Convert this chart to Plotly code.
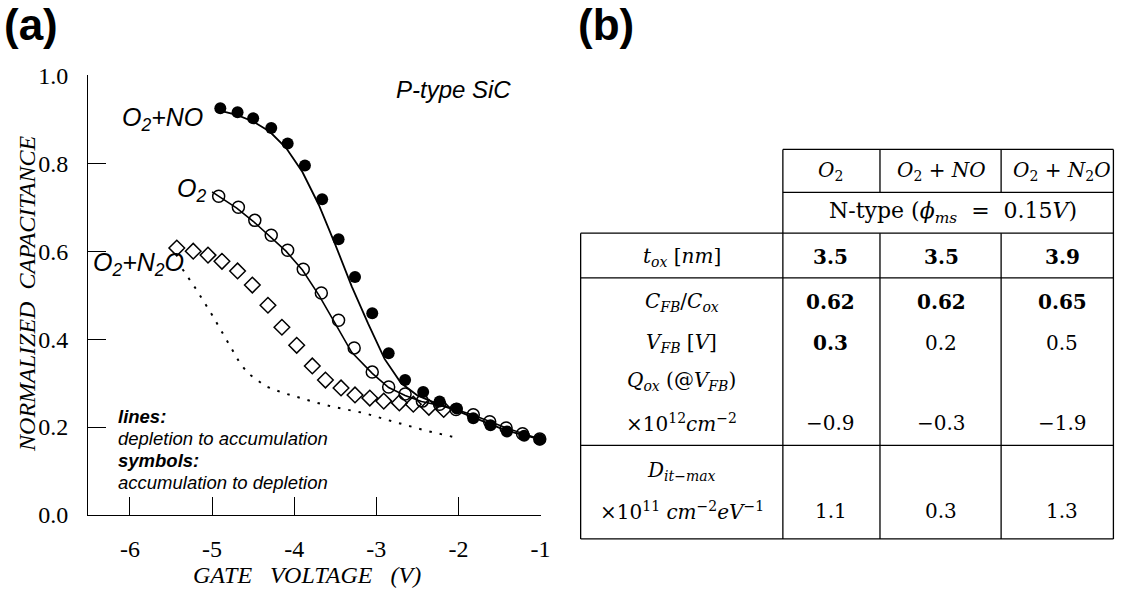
import plotly.graph_objects as go

# ---------------- data (panel a) ----------------
# O2+NO : symbols (accumulation -> depletion)
no_sym_x = [-4.90, -4.69, -4.50, -4.28, -4.08, -3.87, -3.66, -3.46, -3.26, -3.05, -2.85, -2.65, -2.43, -2.23, -2.02, -1.82, -1.61, -1.41, -1.20, -1.01]
no_sym_y = [0.925, 0.916, 0.902, 0.880, 0.845, 0.795, 0.718, 0.627, 0.541, 0.459, 0.368, 0.307, 0.280, 0.258, 0.242, 0.220, 0.204, 0.190, 0.180, 0.172]
# O2+NO : line (depletion -> accumulation)
no_line_x = [-4.92, -4.70, -4.50, -4.30, -4.10, -3.90, -3.70, -3.50, -3.30, -3.10, -2.90, -2.70, -2.50, -2.30, -2.10, -1.90, -1.70, -1.50, -1.30, -1.00]
no_line_y = [0.920, 0.910, 0.895, 0.872, 0.835, 0.780, 0.705, 0.615, 0.520, 0.435, 0.355, 0.300, 0.272, 0.256, 0.243, 0.228, 0.212, 0.198, 0.186, 0.172]

# O2 : symbols
o2_sym_x = [-4.92, -4.68, -4.48, -4.28, -4.08, -3.89, -3.67, -3.46, -3.27, -3.05, -2.85, -2.65, -2.44, -2.23, -2.03, -1.82, -1.62, -1.42, -1.22, -1.01]
o2_sym_y = [0.725, 0.700, 0.670, 0.636, 0.602, 0.559, 0.505, 0.443, 0.380, 0.325, 0.291, 0.275, 0.259, 0.252, 0.240, 0.228, 0.212, 0.198, 0.185, 0.173]
# O2 : line
o2_line_x = [-5.00, -4.90, -4.70, -4.50, -4.30, -4.10, -3.90, -3.70, -3.50, -3.30, -3.05, -2.85, -2.65, -2.45, -2.25, -2.00, -1.80, -1.60, -1.40, -1.20, -1.00]
o2_line_y = [0.735, 0.722, 0.698, 0.668, 0.635, 0.600, 0.557, 0.500, 0.435, 0.370, 0.322, 0.290, 0.272, 0.258, 0.250, 0.238, 0.226, 0.211, 0.197, 0.184, 0.172]

# O2+N2O : symbols
n2o_sym_x = [-5.43, -5.23, -5.05, -4.88, -4.69, -4.51, -4.32, -4.15, -3.97, -3.78, -3.62, -3.43, -3.26, -3.08, -2.91, -2.72, -2.55, -2.36, -2.18]
n2o_sym_y = [0.607, 0.600, 0.591, 0.577, 0.555, 0.523, 0.477, 0.427, 0.386, 0.339, 0.307, 0.289, 0.273, 0.266, 0.259, 0.255, 0.252, 0.245, 0.240]
# O2+N2O : dotted line
n2o_line_x = [-5.36, -5.20, -5.00, -4.80, -4.66, -4.56, -4.35, -4.14, -3.95, -3.74, -3.53, -3.33, -3.15, -2.90, -2.70, -2.40, -2.05]
n2o_line_y = [0.559, 0.515, 0.455, 0.390, 0.345, 0.322, 0.293, 0.278, 0.267, 0.256, 0.246, 0.239, 0.232, 0.218, 0.207, 0.192, 0.177]

x_ticks = [-6, -5, -4, -3, -2, -1]
y_ticks = [0.0, 0.2, 0.4, 0.6, 0.8, 1.0]

# ---------------- data (panel b) ----------------
col_headers = ["<i>O</i><sub>2</sub>", "<i>O</i><sub>2</sub> + <i>NO</i>", "<i>O</i><sub>2</sub> + <i>N</i><sub>2</sub><i>O</i>"]
subheader = "N-type&nbsp;(<i>ϕ<sub>ms</sub></i>&nbsp;&nbsp;=&nbsp;&nbsp;0.15<i>V</i>)"
tox = ["3.5", "3.5", "3.9"]
cfb_cox = ["0.62", "0.62", "0.65"]
vfb = ["0.3", "0.2", "0.5"]
qox = ["−0.9", "−0.3", "−1.9"]
dit = ["1.1", "0.3", "1.3"]

W, H = 1124, 594
def px(x):
    return min(x / 0.99, W - 0.6) / W
def py(y):
    return 1 - ((y - 13) / 0.96) / H

SERIF = "Liberation Serif"
SANS = "Liberation Sans"
TFONT = "DejaVu Serif"

fig = go.Figure()
fig.add_trace(go.Scatter(x=no_line_x, y=no_line_y, mode="lines",
                         line=dict(color="black", width=1.8), hoverinfo="skip"))
fig.add_trace(go.Scatter(x=o2_line_x, y=o2_line_y, mode="lines",
                         line=dict(color="black", width=1.6), hoverinfo="skip"))
fig.add_trace(go.Scatter(x=n2o_line_x, y=n2o_line_y, mode="lines",
                         line=dict(color="black", width=2, dash="2.5px,8px"), hoverinfo="skip"))
fig.add_trace(go.Scatter(x=no_sym_x, y=no_sym_y, mode="markers", cliponaxis=False,
                         marker=dict(symbol="circle", size=12, color="black")))
fig.add_trace(go.Scatter(x=o2_sym_x, y=o2_sym_y, mode="markers", cliponaxis=False,
                         marker=dict(symbol="circle-open", size=12, color="black",
                                     line=dict(width=1.5, color="black"))))
fig.add_trace(go.Scatter(x=n2o_sym_x, y=n2o_sym_y, mode="markers", cliponaxis=False,
                         marker=dict(symbol="diamond-open", size=12, color="black",
                                     line=dict(width=1.5, color="black"))))

axis_common = dict(showgrid=False, zeroline=False, showline=True, linecolor="black",
                   linewidth=1.2, ticks="inside", ticklen=18, tickwidth=1.2, tickcolor="black",
                   tickfont=dict(family=SERIF, size=24, color="black"))
fig.update_xaxes(range=[-6.51, -1.0], tickvals=x_ticks, ticktext=[str(v) for v in x_ticks],
                 domain=[px(88), px(540)], ticklabelstandoff=12, **axis_common)
fig.update_yaxes(range=[0, 1.0], tickvals=y_ticks, ticktext=[f"{v:.1f}" for v in y_ticks],
                 domain=[py(517), py(75.5)], ticklabelstandoff=14, **axis_common)

ann = []
def A(x, y, text, size, family, xanchor="center", xref="paper", yref="paper", textangle=0):
    ann.append(dict(x=x, y=y, xref=xref, yref=yref, text=text, showarrow=False,
                    xanchor=xanchor, yanchor="middle", textangle=textangle,
                    font=dict(family=family, size=size, color="black")))

# panel labels
A(px(31), py(25), "<b>(a)</b>", 44, SANS)
A(px(605), py(25), "<b>(b)</b>", 44, SANS)
# axis titles
A(px(307), py(577), "<i>GATE   VOLTAGE   (V)</i>", 24, SERIF)
A(px(27), py(295), "<i>NORMALIZED  CAPACITANCE</i>", 24, SERIF, textangle=-90)
# in-plot labels (data coords)
A(-2.06, 0.968, "<i>P-type SiC</i>", 24, SANS, xref="x", yref="y")
A(-5.60, 0.900, "<i>O<sub>2</sub>+NO</i>", 25, SANS, xref="x", yref="y")
A(-5.25, 0.738, "<i>O<sub>2</sub></i>", 25, SANS, xref="x", yref="y")
A(-5.90, 0.570, "<i>O<sub>2</sub>+N<sub>2</sub>O</i>", 25, SANS, xref="x", yref="y")
A(-6.17, 0.223, "<b><i>lines:</i></b>", 18.5, SANS, xanchor="left", xref="x", yref="y")
A(-6.17, 0.173, "<i>depletion to accumulation</i>", 18.5, SANS, xanchor="left", xref="x", yref="y")
A(-6.17, 0.123, "<b><i>symbols:</i></b>", 18.5, SANS, xanchor="left", xref="x", yref="y")
A(-6.17, 0.075, "<i>accumulation to depletion</i>", 18.5, SANS, xanchor="left", xref="x", yref="y")

# ---------------- table (panel b) ----------------
col_x = [830, 940, 1061]
lab_x = 681
TS = 20
for cx, h in zip(col_x, col_headers):
    A(px(cx), py(172), h, TS, TFONT)
A(px(952), py(213), subheader, 22, TFONT)

row_labels = ["<i>t<sub>ox</sub></i> [<i>nm</i>]",
              "<i>C<sub>FB</sub></i>/<i>C<sub>ox</sub></i>",
              "<i>V<sub>FB</sub></i> [<i>V</i>]",
              "<i>Q<sub>ox</sub></i> (@<i>V<sub>FB</sub></i>)",
              "×10<sup>12</sup><i>cm</i><sup>−2</sup>",
              "<i>D<sub>it−max</sub></i>",
              "×10<sup>11</sup> <i>cm</i><sup>−2</sup><i>eV</i><sup>−1</sup>"]
row_y = [258, 303, 344, 382, 425, 473, 513]
for lab, yy in zip(row_labels, row_y):
    A(px(lab_x), py(yy), lab, TS, TFONT)

value_rows = [(tox, 258, [True, True, True]),
              (cfb_cox, 303, [True, True, True]),
              (vfb, 344, [True, False, False]),
              (qox, 425, [False, False, False]),
              (dit, 513, [False, False, False])]
for vals, yy, bolds in value_rows:
    for cx, v, b in zip(col_x, vals, bolds):
        A(px(cx), py(yy), f"<b>{v}</b>" if b else v, TS, TFONT)

shapes = []
def L(x0, y0, x1, y1):
    shapes.append(dict(type="line", xref="paper", yref="paper",
                       x0=px(x0), y0=py(y0), x1=px(x1), y1=py(y1),
                       line=dict(color="black", width=1.3)))
L(782, 150, 1122, 150)
L(782, 193, 1122, 193)
for yy in [234, 279, 447, 541]:
    L(580, yy, 1122, yy)
L(580, 234, 580, 541)
L(782, 150, 782, 541)
for xx in [879, 1000]:
    L(xx, 150, xx, 193)
    L(xx, 234, xx, 541)
L(1122, 150, 1122, 541)

fig.update_layout(width=W, height=H, margin=dict(l=0, r=0, t=0, b=0),
                  paper_bgcolor="white", plot_bgcolor="white", showlegend=False,
                  annotations=ann, shapes=shapes)
fig.write_html("out.html", config={"displayModeBar": False},
               post_script="document.body.style.margin='0px';document.body.style.overflow='hidden';")
